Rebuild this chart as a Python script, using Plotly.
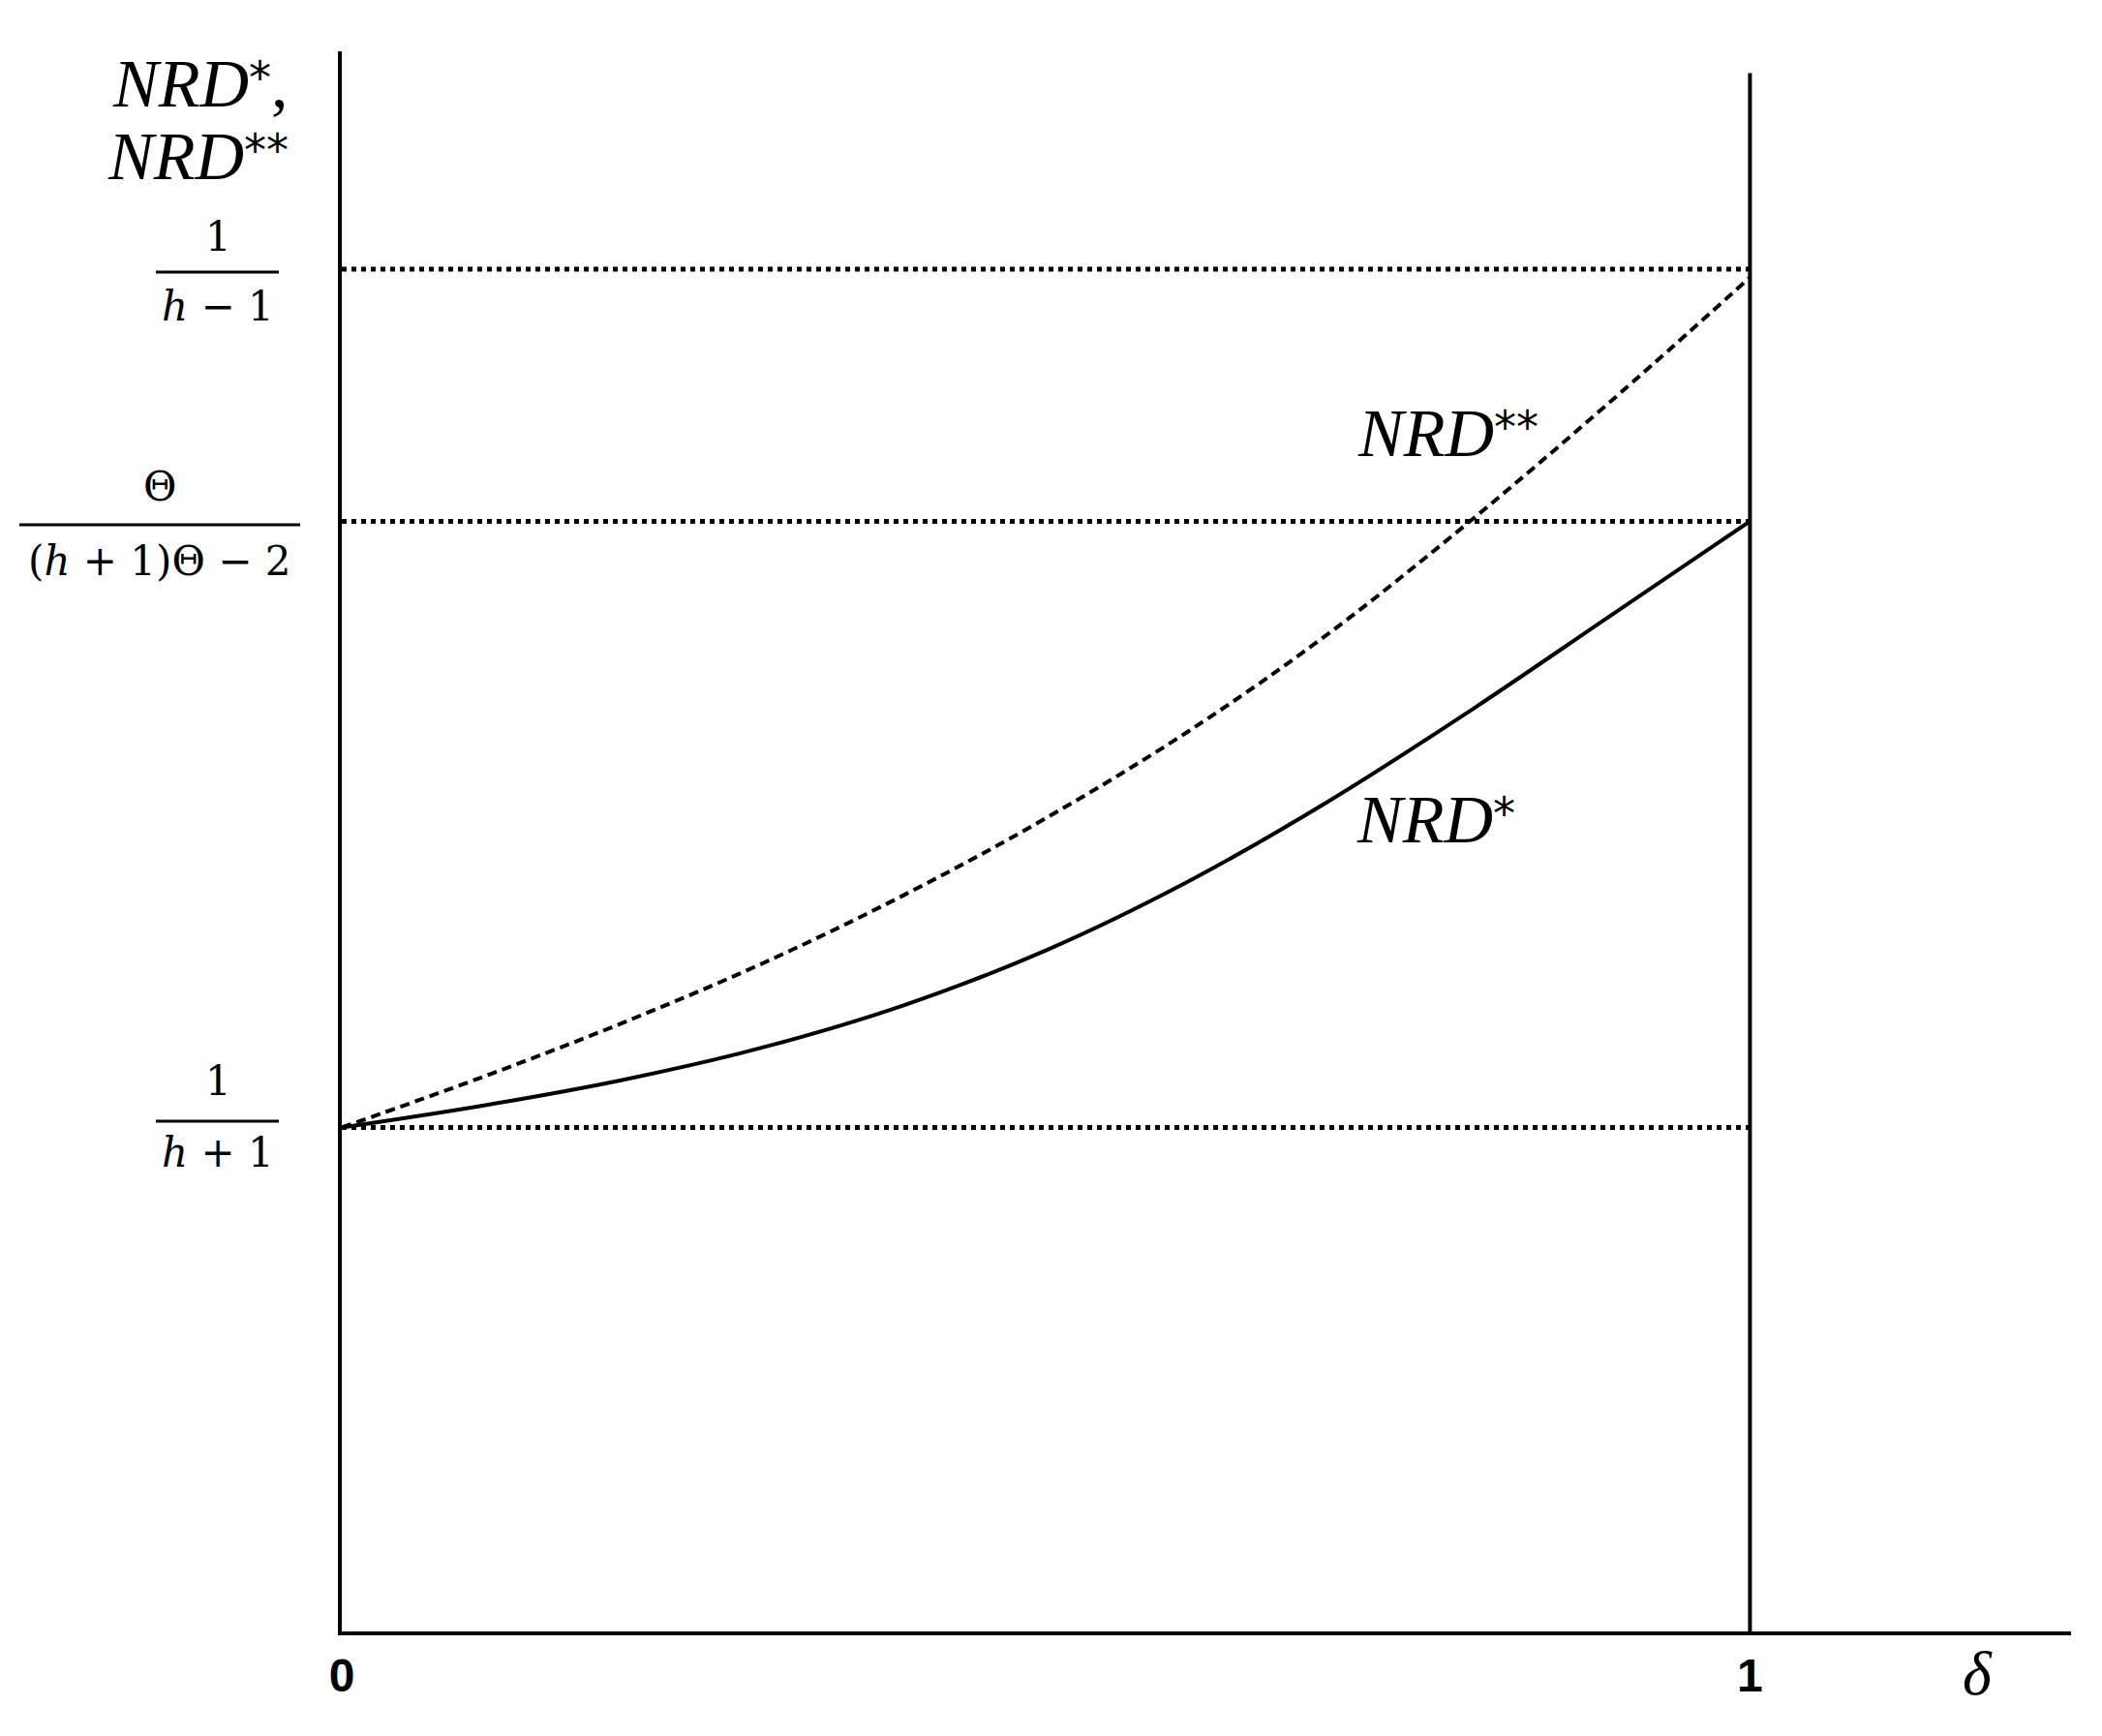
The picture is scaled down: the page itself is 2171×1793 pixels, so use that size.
import plotly.graph_objects as go

# values (y in arbitrary units, 1/(h-1) level = 1)
delta = [0.0, 0.1, 0.2, 0.3, 0.4, 0.5, 0.6, 0.7, 0.8, 0.9, 1.0]
nrd_star = [0.370, 0.386, 0.405, 0.429, 0.460, 0.500, 0.550, 0.609, 0.675, 0.745, 0.815]
nrd_star2 = [0.370, 0.407, 0.447, 0.491, 0.541, 0.597, 0.660, 0.732, 0.814, 0.902, 0.994]

level_low = 0.370    # 1/(h+1)
level_mid = 0.815    # theta/((h+1)theta-2)
level_high = 1.0     # 1/(h-1)
right_top = 1.144

# page has an 8px body margin, so the figure is a bit smaller than the window
OFF = 8
W, H = 2171 - 2 * OFF, 1793 - 2 * OFF
L, R, T, B = 353 - OFF, 24, 53 - OFF, 100
XMAX, YMAX = 1.228, 1.16

# page pixel -> paper fractions, for the text drawn outside the plot area
def xp(px):
    return (px - OFF - L) / (W - L - R)

def yp(py):
    return (H - B - (py - OFF)) / (H - B - T)

serif = "Liberation Serif"
math = "DejaVu Serif"
sans = "Liberation Sans"

# small raised asterisks, like the superscripts in the reference
def stars(n):
    return ("<span style='font-family:DejaVu Sans;font-size:46px;baseline-shift:14px'>"
            + "*" * n + "</span>")

fig = go.Figure()

# dotted reference levels
for lv in [level_high, level_mid, level_low]:
    fig.add_trace(go.Scatter(x=[0, 1], y=[lv, lv], mode="lines",
                             line=dict(color="black", width=5, dash="5px,5px"),
                             hoverinfo="skip"))

# vertical line at delta = 1
fig.add_trace(go.Scatter(x=[1, 1], y=[0, right_top], mode="lines",
                         line=dict(color="black", width=4), hoverinfo="skip"))

fig.add_trace(go.Scatter(x=delta, y=nrd_star2, mode="lines", line_shape="spline",
                         line=dict(color="black", width=4, dash="10px,6px")))
fig.add_trace(go.Scatter(x=delta, y=nrd_star, mode="lines", line_shape="spline",
                         line=dict(color="black", width=4)))

fig.update_xaxes(range=[0, XMAX], showgrid=False, zeroline=False,
                 showline=True, linecolor="black", linewidth=4,
                 tickvals=[0, 1], ticktext=["<b>0</b>", "<b>1</b>"], ticks="",
                 tickfont=dict(family=sans, size=48, color="black"))
fig.update_yaxes(range=[0, YMAX], showgrid=False, zeroline=False,
                 showline=True, linecolor="black", linewidth=4,
                 showticklabels=False, ticks="")

ann = []
def txt(s, px, py, size=70, xanchor="center", family=serif):
    ann.append(dict(text=s, x=xp(px), y=yp(py), xref="paper", yref="paper",
                    showarrow=False, xanchor=xanchor, yanchor="middle",
                    font=dict(family=family, size=size, color="black")))

# y axis title
txt("<i>NRD</i>" + stars(1) + ",", 300, 86, xanchor="right")
txt("<i>NRD</i>" + stars(2), 300, 162, xanchor="right")

# level labels written as fractions
txt("1", 225, 244, size=42, family=math)
txt("<i>h</i> − 1", 225, 316, size=42, family=math)
txt("Θ", 165, 502, size=42, family=math)
txt("(<i>h</i> + 1)Θ − 2", 165, 580, size=42, family=math)
txt("1", 225, 1116, size=42, family=math)
txt("<i>h</i> + 1", 225, 1190, size=42, family=math)

# curve labels and axis label
txt("<i>NRD</i>" + stars(2), 1495, 447)
txt("<i>NRD</i>" + stars(1), 1483, 846)
txt("<i>δ</i>", 2042, 1728, size=64)

shapes = []
for x0, x1, py in [(161, 288, 281), (20, 310, 542), (161, 288, 1158)]:
    shapes.append(dict(type="line", xref="paper", yref="paper",
                       x0=xp(x0), x1=xp(x1), y0=yp(py), y1=yp(py),
                       line=dict(color="black", width=3), layer="above"))

fig.update_layout(width=W, height=H, margin=dict(l=L, r=R, t=T, b=B),
                  plot_bgcolor="white", paper_bgcolor="white",
                  showlegend=False, annotations=ann, shapes=shapes)

fig.write_html("out.html")
